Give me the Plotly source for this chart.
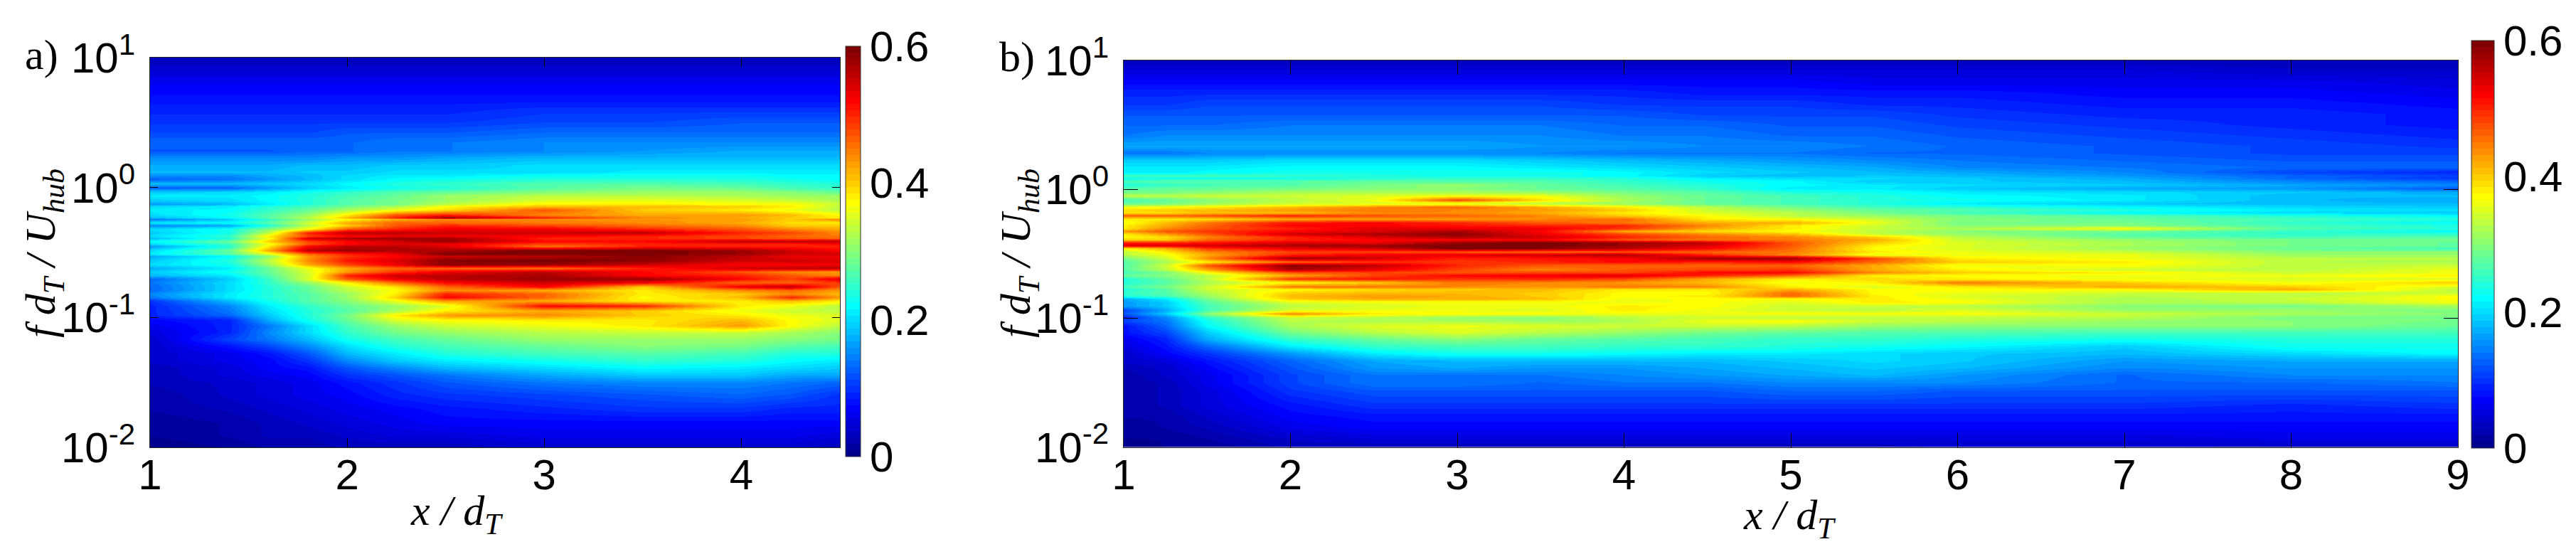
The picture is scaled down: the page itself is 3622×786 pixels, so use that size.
import numpy as np
import plotly.graph_objects as go

W, H = 3622, 786

X_A = [1, 1.4, 1.6, 1.8, 2, 2.25, 2.5, 3, 3.5, 4, 4.25, 4.5]
LOGF_A = [1.000, .923, .841, .759, .677, .595, .513, .431, .349, .283, .228, .173,
          .120, .093, .066, .029, -.002, -.035, -.062, -.098, -.126, -.144, -.171,
          -.208, -.230, -.244, -.272, -.294, -.317, -.345, -.372, -.390, -.412, -.436,
          -.451, -.482, -.509, -.527, -.560, -.591, -.619, -.646, -.673, -.701, -.728,
          -.761, -.792, -.819, -.847, -.874, -.910, -.947, -.983, -1.020, -1.066,
          -1.111, -1.166, -1.221, -1.275, -1.330, -1.385, -1.440, -1.503, -1.595,
          -1.704, -1.814, -1.907, -2.000]
# values in hundredths, rows listed from the top of the panel downwards
Z_A = [
    [3,3,3,3,3,3,3,3,3,3,3,3],
    [4,4,4,4,4,4,4,4,4,4,4,4],
    [6,6,6,6,6,6,6,6,6,6,6,6],
    [7,7,7,7,7,7,7,7,7,7,7,7],
    [8,8,8,8,8,8,8,8,8,8,8,8],
    [9,9,9,9,9,9,9,10,10,10,10,10],
    [10,10,10,10,10,10,10,11,11,12,12,12],
    [11,11,11,11,12,12,12,13,13,13,13,13],
    [13,13,13,13,13,14,14,15,15,15,15,15],
    [12,12,12,13,13,14,14,15,16,17,17,17],
    [15,15,15,15,16,16,17,18,18,18,18,18],
    [17,17,17,18,18,19,19,20,20,20,20,20],
    [18,18,18,19,19,20,20,20,21,21,21,21],
    [15,15,17,18,20,21,21,23,23,23,22,22],
    [13,14,16,18,20,22,23,24,24,24,23,22],
    [18,18,19,20,22,24,25,27,27,26,25,24],
    [13,13,16,19,21,23,24,27,29,28,26,25],
    [19,20,21,23,25,27,28,30,31,31,30,28],
    [21,21,22,24,26,28,31,33,33,32,31,31],
    [19,20,22,24,27,29,31,35,36,35,34,32],
    [16,18,21,24,27,29,33,38,38,37,37,34],
    [20,21,24,26,29,32,37,41,41,40,38,33],
    [21,22,25,28,32,36,39,47,40,38,36,33],
    [20,23,27,31,38,47,50,44,42,43,41,37],
    [18,22,27,33,41,50,58,50,44,42,40,38],
    [14,19,25,31,37,42,44,44,43,43,40,44],
    [21,22,27,34,42,46,46,45,44,42,39,38],
    [15,17,24,33,40,47,50,48,46,44,40,40],
    [20,23,30,37,47,50,53,53,50,47,44,42],
    [19,23,33,50,56,56,55,55,56,50,48,44],
    [20,25,38,48,52,53,53,52,50,48,46,45],
    [18,24,36,55,57,58,58,50,50,48,47,46],
    [22,28,40,48,52,55,58,52,52,56,56,56],
    [20,26,36,47,52,54,53,48,50,50,50,52],
    [16,24,38,52,56,56,54,45,50,50,50,50],
    [20,28,42,56,58,57,57,60,60,58,55,52],
    [21,27,35,46,50,53,60,60,60,58,55,55],
    [17,22,30,43,49,52,55,56,59,56,53,53],
    [19,24,33,44,51,54,59,60,59,55,55,54],
    [20,23,31,42,48,53,59,58,55,52,52,53],
    [17,21,28,36,42,46,46,45,50,55,56,56],
    [19,23,28,35,43,49,53,56,52,47,44,43],
    [18,21,27,34,50,55,56,57,52,50,47,44],
    [13,19,25,35,47,53,56,58,58,52,48,54],
    [14,20,25,31,38,46,52,55,53,46,46,49],
    [13,20,24,28,34,39,46,52,40,53,56,47],
    [13,20,24,28,33,37,44,42,38,44,46,43],
    [15,21,24,27,31,38,50,46,38,40,44,41],
    [14,21,24,27,31,40,52,46,37,41,50,43],
    [10,18,23,27,30,36,43,42,38,38,41,38],
    [9,15,21,25,28,31,35,52,50,38,36,33],
    [9,14,20,24,27,32,38,42,40,36,34,33],
    [9,13,19,24,29,38,43,44,40,38,36,35],
    [7,9,17,23,28,35,37,38,38,41,37,35],
    [6,9,14,20,26,31,34,36,38,43,37,33],
    [5,9,15,20,25,29,31,33,34,34,32,30],
    [4,11,14,18,23,26,28,31,31,31,30,29],
    [4,8,11,15,20,24,26,28,30,29,27,26],
    [4,6,8,12,18,21,24,26,27,26,24,24],
    [4,6,7,10,15,19,21,23,25,24,22,21],
    [3,5,7,8,12,15,18,20,22,21,20,19],
    [3,5,6,7,10,12,14,17,19,19,17,17],
    [3,4,5,6,8,10,12,14,15,15,14,13],
    [2,4,5,6,7,9,10,11,12,13,12,10],
    [2,3,4,5,6,7,8,9,10,10,9,9],
    [1,2,3,4,5,6,7,7,7,7,7,7],
    [1,2,3,3,4,5,5,6,6,6,6,5],
    [0,1,2,2,3,3,3,4,4,4,4,3],
]

X_B = [1, 1.25, 1.5, 2, 2.5, 3, 3.5, 4, 4.5, 5, 5.5, 6, 7, 8, 9]
LOGF_B = [1.000, .917, .834, .752, .669, .586, .503, .420, .338, .283, .227, .172,
          .135, .108, .089, .062, .034, .007, -.021, -.049, -.084, -.109, -.135, -.159,
          -.183, -.205, -.229, -.257, -.279, -.302, -.325, -.348, -.371, -.389, -.411,
          -.435, -.459, -.485, -.509, -.536, -.564, -.588, -.621, -.643, -.669, -.692,
          -.720, -.753, -.775, -.803, -.827, -.849, -.876, -.904, -.937, -.963, -.992,
          -1.018, -1.060, -1.106, -1.162, -1.217, -1.272, -1.327, -1.382, -1.437,
          -1.502, -1.566, -1.677, -1.760, -1.842, -1.925, -2.000]
Z_B = [
    [3,3,3,3,3,3,3,3,3,3,3,3,3,3,3],
    [5,5,5,5,5,5,5,5,5,5,5,5,5,4,4],
    [7,7,7,7,7,7,7,7,7,7,6,6,6,6,5],
    [9,9,9,9,9,9,9,9,8,8,8,8,7,7,6],
    [10,10,11,11,11,11,11,10,10,10,9,9,8,8,7],
    [12,12,12,12,12,12,12,12,11,11,11,10,9,9,8],
    [13,13,13,14,14,14,14,13,13,12,12,11,10,9,8],
    [14,15,15,15,15,15,15,14,14,13,13,12,11,10,9],
    [17,17,17,17,17,17,16,16,15,15,14,13,12,11,10],
    [14,14,15,15,15,15,15,14,14,14,13,13,12,11,11],
    [19,19,19,20,20,20,19,18,17,16,15,14,13,12,12],
    [21,21,21,22,22,22,21,20,19,18,17,15,14,13,13],
    [21,21,22,23,23,23,23,22,20,19,18,17,15,11,9],
    [26,26,26,25,24,23,23,22,19,18,19,18,16,13,11],
    [23,23,23,23,24,25,25,24,21,20,20,19,17,13,10],
    [26,27,27,27,28,27,27,25,23,22,19,19,18,15,13],
    [24,25,26,27,29,31,28,26,24,22,21,20,19,17,15],
    [27,28,28,29,30,30,28,27,25,21,21,19,17,16,12],
    [29,29,30,32,32,32,31,29,27,24,23,21,20,19,17],
    [33,33,34,34,35,36,36,31,28,26,24,22,21,18,18],
    [26,28,30,33,36,48,39,32,28,26,24,23,21,18,17],
    [28,29,31,34,35,35,33,31,28,26,24,21,19,18,18],
    [36,37,38,41,44,46,42,38,33,29,26,25,22,20,19],
    [39,40,41,43,45,44,43,40,34,31,28,27,24,21,20],
    [39,39,41,41,44,44,42,38,35,33,29,26,22,20,19],
    [46,46,47,50,47,46,44,40,37,33,31,29,27,24,22],
    [38,38,39,42,43,43,44,46,38,37,34,30,28,26,24],
    [36,41,45,51,52,50,47,45,42,42,36,29,29,25,22],
    [38,42,46,52,52,51,50,50,44,38,34,30,30,26,24],
    [38,44,47,50,54,53,53,49,42,38,34,32,37,27,24],
    [43,47,49,52,54,57,52,42,39,37,33,30,29,25,22],
    [38,43,47,55,57,59,53,48,44,41,34,31,27,25,25],
    [37,39,44,50,54,57,55,50,46,44,40,33,28,26,27],
    [40,40,46,50,52,52,52,47,45,45,42,34,31,29,29],
    [50,50,51,54,53,58,60,58,56,47,40,35,32,29,28],
    [54,54,55,57,58,60,60,58,54,47,38,35,32,29,28],
    [38,42,49,53,55,60,59,56,52,46,37,35,31,28,26],
    [33,38,44,48,48,47,46,47,46,45,38,36,34,30,30],
    [33,36,42,50,53,54,55,57,50,44,36,36,36,31,31],
    [29,34,44,58,55,50,51,52,58,58,48,38,36,33,33],
    [27,32,38,46,49,49,50,52,50,52,46,40,38,33,32],
    [27,34,47,59,56,50,47,46,46,46,42,36,37,33,34],
    [27,33,42,57,53,48,44,47,48,49,42,38,34,33,36],
    [26,29,37,47,48,47,48,48,52,52,44,40,38,34,36],
    [28,30,33,42,48,52,53,54,50,46,38,37,36,36,38],
    [24,28,33,49,51,49,50,48,42,38,39,38,36,35,35],
    [24,27,32,37,40,45,44,43,41,36,38,45,40,36,40],
    [26,29,34,45,45,44,43,45,44,38,35,38,42,40,35],
    [24,27,34,37,39,40,41,38,38,42,37,37,37,42,33],
    [25,27,32,40,41,41,40,37,37,46,37,36,34,33,34],
    [24,26,31,41,43,42,40,37,38,46,38,35,33,33,37],
    [17,21,29,40,42,42,41,36,37,37,38,36,32,34,37],
    [16,19,27,35,36,36,36,36,37,35,38,37,32,33,36],
    [16,19,26,33,35,36,36,38,37,34,34,33,30,29,32],
    [11,17,26,35,36,36,35,38,36,34,33,35,31,31,29],
    [12,19,30,44,38,37,37,36,36,37,37,37,34,32,30],
    [9,15,25,34,33,31,30,33,34,33,33,33,33,29,29],
    [11,14,23,33,32,32,31,32,36,37,34,33,31,30,29],
    [8,13,22,32,35,36,35,34,34,33,31,30,30,30,28],
    [8,11,19,29,33,35,33,31,29,28,27,27,26,26,26],
    [6,9,17,25,28,30,28,27,26,25,25,24,23,24,24],
    [5,8,13,21,25,26,26,25,25,24,23,22,19,23,23],
    [4,7,10,16,21,23,23,22,21,21,20,19,18,20,22],
    [4,5,8,13,17,18,18,18,18,19,20,19,16,17,17],
    [3,4,7,12,16,17,16,16,17,18,19,18,15,16,16],
    [2,4,6,11,14,14,14,15,16,17,18,16,13,15,15],
    [2,3,6,11,14,14,13,14,14,15,15,15,13,13,14],
    [2,3,5,10,12,12,12,12,12,13,13,12,12,12,12],
    [2,3,5,8,10,10,10,10,10,10,10,10,10,9,10],
    [2,2,4,7,8,8,8,8,8,8,8,8,8,8,8],
    [1,2,3,6,7,7,7,7,7,7,7,7,7,7,7],
    [1,1,2,4,5,5,5,5,5,5,5,5,5,6,6],
    [0,1,1,3,3,3,3,3,3,3,3,4,4,3,3],
]

Y_TICKS = [0.01, 0.1, 1, 10]
Y_LABELS = ["10<sup>-2</sup>", "10<sup>-1</sup>", "10<sup>0</sup>", "10<sup>1</sup>"]
CB_TICKS = [0, 0.2, 0.4, 0.6]
CB_LABELS = ["0", "0.2", "0.4", "0.6"]
SANS = "Liberation Sans"
SERIF = "Liberation Serif"
FS = 60


def jet_scale(n=64):
    stops = []
    for i in range(n):
        t = (i + 1) / n
        r = np.clip(min(4 * t - 1.5, -4 * t + 4.5), 0, 1)
        g = np.clip(min(4 * t - 0.5, -4 * t + 3.5), 0, 1)
        b = np.clip(min(4 * t + 0.5, -4 * t + 2.5), 0, 1)
        c = f"rgb({int(r*255)},{int(g*255)},{int(b*255)})"
        stops += [[i / n, c], [(i + 1) / n, c]]
    return stops


JET = jet_scale()


def heat(x, logf, z, xa, ya, cb_left, cb_right, cb_top, cb_bottom):
    y = (10.0 ** np.array(logf))[::-1]
    zz = (np.array(z, dtype=float) / 100)[::-1]
    return go.Heatmap(
        x=x, y=y, z=zz, xaxis=xa, yaxis=ya, zmin=0, zmax=0.6, zsmooth="best",
        colorscale=JET, hoverinfo="skip",
        colorbar=dict(
            x=cb_left / W, xanchor="left", xpad=0, ypad=0,
            y=1 - cb_bottom / H, yanchor="bottom",
            thickness=cb_right - cb_left, thicknessmode="pixels",
            len=cb_bottom - cb_top, lenmode="pixels",
            tickmode="array", tickvals=CB_TICKS, ticktext=CB_LABELS,
            ticks="", outlinewidth=1, outlinecolor="#333333",
            tickfont=dict(family=SANS, size=FS, color="black"),
        ),
    )


fig = go.Figure()
fig.add_trace(heat(X_A, LOGF_A, Z_A, "x", "y", 1189, 1210, 65, 642))
fig.add_trace(heat(X_B, LOGF_B, Z_B, "x2", "y2", 3475, 3507, 57, 630))


def xax(left, right, xmax, ticklen):
    return dict(domain=[left / W, right / W], range=[1, xmax], tick0=1, dtick=1,
                ticks="inside", ticklen=ticklen, tickwidth=1, tickcolor="black",
                showline=True, mirror="allticks", linecolor="#222222", linewidth=1,
                showgrid=False, zeroline=False, automargin=False,
                ticklabelstandoff=-14,
                tickfont=dict(family=SANS, size=FS, color="black"))


def yax(top, bottom, ticklen):
    return dict(domain=[1 - bottom / H, 1 - top / H], type="log", range=[-2, 1],
                tickmode="array", tickvals=Y_TICKS, ticktext=Y_LABELS,
                ticks="inside", ticklen=ticklen, tickwidth=1, tickcolor="black",
                showline=True, mirror="allticks", linecolor="#222222", linewidth=1,
                showgrid=False, zeroline=False, automargin=False,
                ticklabelstandoff=8,
                tickfont=dict(family=SANS, size=FS, color="black"))


def note(text, cx, cy, angle=0):
    return dict(text=text, x=cx / W, y=1 - cy / H, xref="paper", yref="paper",
                xanchor="center", yanchor="middle", showarrow=False, textangle=angle,
                font=dict(family=SERIF, size=FS, color="black"))


XT = "<i>x / d<sub>T</sub></i>"
YT = "<i>f d<sub>T</sub> / U<sub>hub</sub></i>"
fig.update_layout(
    width=W, height=H, margin=dict(l=0, r=0, t=0, b=0, autoexpand=False),
    paper_bgcolor="white", plot_bgcolor="white", showlegend=False,
    xaxis=dict(anchor="y", **xax(211, 1181, 4.5, 13)),
    yaxis=dict(anchor="x", **yax(81, 629, 11)),
    xaxis2=dict(anchor="y2", **xax(1580, 3456, 9, 20)),
    yaxis2=dict(anchor="x2", **yax(85, 628.5, 20)),
    annotations=[
        note("a)", 58, 77), note("b)", 1430, 80),
        note(XT, 642, 722), note(XT, 2516, 728),
        note(YT, 62, 356, -90), note(YT, 1433, 356, -90),
    ],
)

fig.write_html("out.html", config={"displayModeBar": False},
               post_script="document.body.style.margin='0';document.documentElement.style.overflow='hidden';")
